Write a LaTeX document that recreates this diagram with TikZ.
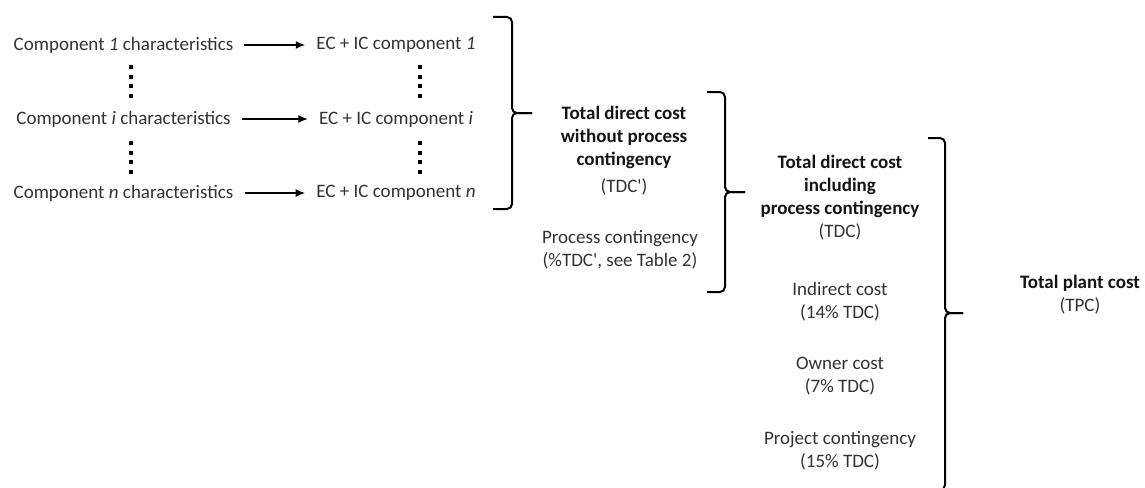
\documentclass[tikz,border=0pt]{standalone}
\usepackage{fontspec}
\setmainfont{Carlito}[Ligatures=TeXOff]
\usetikzlibrary{arrows.meta}
\definecolor{txt}{RGB}{50,50,50}
\definecolor{bld}{RGB}{20,20,20}
\tikzset{
  lbl/.style={font=\fontsize{19}{23}\selectfont, text=txt, inner sep=0pt, align=center},
  arr/.style={line width=1.5pt, -{Latex[length=9.5pt,width=8pt]}, shorten <=11pt, shorten >=11pt},
  brace/.style={line width=2pt, rounded corners=5pt},
  dot/.style={fill=black}
}
\newcommand{\bb}[1]{{\color{bld}\bfseries #1}}
\begin{document}
\begin{tikzpicture}[x=1pt,y=-1pt]
\useasboundingbox (0,0) rectangle (1145,487);
% rows
\node[lbl] (c1) at (123.5,45) {Component \textit{1} characteristics};
\node[lbl] (ci) at (123.5,119) {Component \textit{i} characteristics};
\node[lbl] (cn) at (123.5,193) {Component \textit{n} characteristics};
\node[lbl] (e1) at (396,45) {EC + IC component \textit{1}};
\node[lbl] (ei) at (396,119) {EC + IC component \textit{i}};
\node[lbl] (en) at (396,193) {EC + IC component \textit{n}};
\draw[arr] (c1.east) -- (e1.west);
\draw[arr] (ci.east) -- (ei.west);
\draw[arr] (cn.east) -- (en.west);
% vertical dots
\foreach \x in {131,420}{
  \foreach \y in {67,76.5,86,95.5,143,152.5,162,171.5}{
    \fill[dot] (\x-2,\y-2) rectangle (\x+2,\y+2);
  }
}
% column 2
\node[lbl] (tdcp) at (624,151) {\bb{Total direct cost}\\\bb{without process}\\\bb{contingency}\\[4pt](TDC')};
\node[lbl] (pc) at (620,250) {Process contingency\\(\%TDC', see Table 2)};
% column 3
\node[lbl] (tdc) at (840,198) {\bb{Total direct cost}\\\bb{including}\\\bb{process contingency}\\(TDC)};
\node[lbl] (ind) at (840,301.5) {Indirect cost\\(14\% TDC)};
\node[lbl] (own) at (840,376.5) {Owner cost\\(7\% TDC)};
\node[lbl] (proj) at (840,451) {Project contingency\\(15\% TDC)};
% column 4
\node[lbl] (tpc) at (1080,295) {\bb{Total plant cost}\\(TPC)};
% braces
\draw[brace] (493,17) -- (512,17) -- (512,113) -- (532,113);
\draw[brace] (493,209) -- (512,209) -- (512,113) -- (532,113);
\draw[brace] (707,92) -- (725,92) -- (725,192) -- (745,192);
\draw[brace] (707,292) -- (725,292) -- (725,192) -- (745,192);
\draw[brace] (928,138) -- (945,138) -- (945,313) -- (963,313);
\draw[brace] (928,490) -- (945,490) -- (945,313) -- (963,313);
\end{tikzpicture}
\end{document}
